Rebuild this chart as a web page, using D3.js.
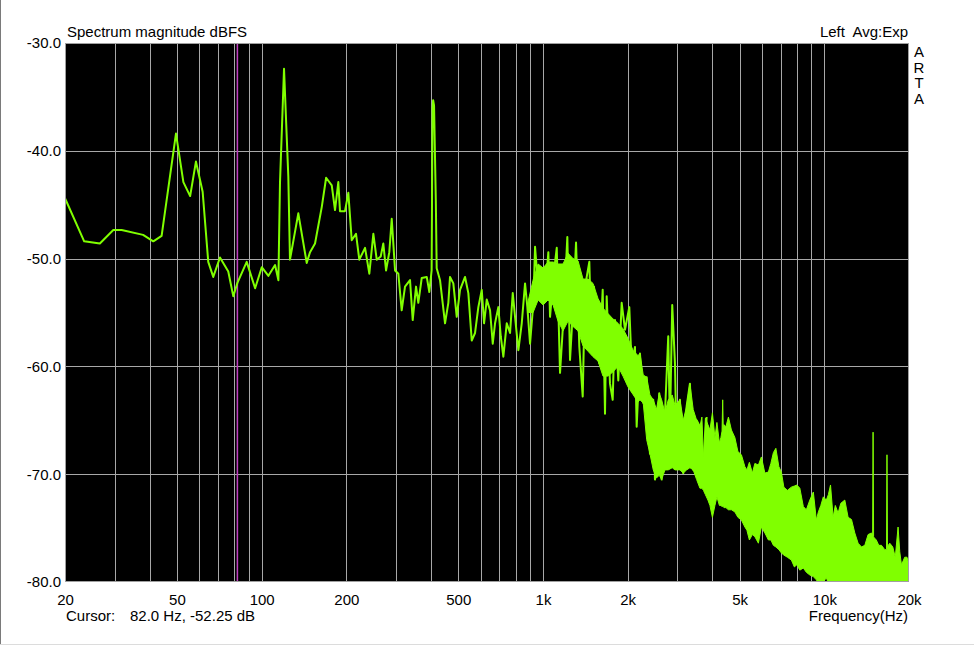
<!DOCTYPE html>
<html>
<head>
<meta charset="utf-8">
<script src="https://cdn.jsdelivr.net/npm/d3@7"></script>
<style>
  body { margin: 0; background: #ffffff; }
  svg { display: block; font-family: "Liberation Sans", Arial, sans-serif; }
</style>
</head>
<body>
<script>
// spectrum readings, drawn as a line (Hz / dBFS)
const lineHz = [20, 23.4, 26.6, 29.7, 31.8, 37.9, 41.2, 44.1, 49.6, 52.7,
  55.7, 58.4, 61.7, 64.6, 67.3, 71.1, 76.1, 79.3, 82.0, 88.5,
  94.8, 100.1, 105.7, 111.6, 114.7, 116.2, 120.1, 124.4, 126.1, 135.0,
  144.6, 148.6, 154.8, 163.6, 169.5, 177.5, 182.3, 187.3, 189.9, 197.8,
  203.3, 209.0, 216.5, 222.4, 233.1, 241.4, 249.5, 256.5, 265.0, 270.7,
  276.8, 284.3, 290.0, 298.0, 306.1, 314.6, 323.3, 336.8, 344.3, 353.8,
  360.5, 370.7, 386.2, 394.5, 402, 405, 407, 410, 416, 419,
  430.6, 448.6, 460.9, 467.3, 480.1, 493.7, 507.2, 528.4, 542.9, 558.2,
  573.5, 589.2, 605.9, 617.4, 631.2, 648.4, 662.9, 675.5, 694.0, 707.8,
  723.0, 743.4, 763.8, 780.8, 795.7, 817.5, 840.5, 863.5, 880.0, 899.6,
  924.2, 937.2, 962.8, 990.0, 1017.1, 1044.9, 1059.5, 1088.5, 1119.3, 1149.8,
  1181.3, 1220.6, 1247.8, 1282.0, 1310.7, 1346.5, 1384.3, 1410.7, 1461.2, 1490.1,
  1518.4, 1552.4, 1585.7, 1630.3, 1661.4, 1684.6, 1730.6, 1769.2, 1802.9, 1852.3,
  1904.4, 1956.6, 2026.7, 2066.6, 2123.3, 2153.0, 2211.8, 2272.4, 2336.6, 2400.3,
  2466.1, 2500.6, 2590.2, 2641.3, 2713.7, 2787.9, 2826.8, 2880.5, 2945.0, 2986.2,
  3067.7, 3151.8, 3240.7, 3329.1, 3420.3, 3516.9, 3612.8, 3711.8, 3816.6]
const lineDb = [-44.4, -48.4, -48.6, -47.35, -47.35, -47.8, -48.4, -47.9, -38.4, -42.9,
  -44.2, -41.0, -43.8, -50.3, -51.7, -49.9, -51.2, -53.5, -52.25, -50.3,
  -52.75, -50.8, -51.6, -50.6, -52.0, -43.0, -32.4, -42.4, -50.1, -45.8,
  -50.4, -49.4, -48.6, -45.2, -42.5, -43.2, -45.5, -42.9, -45.6, -45.6,
  -43.9, -48.3, -47.7, -50.1, -49.0, -51.4, -47.7, -50.1, -49.8, -48.6,
  -51.1, -49.4, -46.3, -51.1, -51.4, -54.8, -52.6, -52.0, -55.7, -52.6,
  -54.1, -51.8, -51.7, -53.1, -51.1, -36.0, -35.3, -35.8, -44.6, -50.9,
  -52.0, -56.0, -54.1, -51.7, -52.3, -55.4, -52.9, -51.7, -53.2, -57.6,
  -56.9, -54.5, -52.9, -56.0, -53.8, -54.8, -57.9, -56.0, -54.5, -57.2,
  -59.1, -56.0, -56.9, -53.2, -55.4, -58.5, -56.0, -52.3, -54.5, -57.9,
  -54.1, -48.9, -52.9, -51.1, -53.5, -49.4, -55.4, -51.7, -49.0, -60.6,
  -55.7, -48.0, -59.4, -54.1, -48.5, -58.2, -62.8, -52.6, -50.3, -58.5,
  -52.6, -58.5, -59.7, -52.9, -64.4, -53.5, -61.6, -63.1, -55.7, -61.3,
  -54.1, -56.6, -54.5, -60.0, -58.2, -65.6, -58.8, -63.4, -61.0, -68.1,
  -63.1, -70.5, -62.5, -70.5, -64.4, -57.2, -65.6, -54.3, -59.7, -67.5,
  -63.1, -69.9, -63.7, -61.6, -69.6, -65.0, -65.6, -71.2, -64.7]

// dense part: per-column top and floor of the filled spectrum band
const bandHz = [885, 922, 961, 1001, 1042, 1086, 1131, 1178, 1228, 1279,
  1332, 1388, 1446, 1506, 1569, 1634, 1703, 1774, 1848, 1925,
  2005, 2089, 2176,
  2212, 2272, 2337, 2400, 2466, 2532, 2590, 2641, 2714, 2788,
  2880, 2945, 3068, 3152, 3241, 3329, 3420, 3517, 3613, 3672,
  3718, 3779, 3857, 3921, 4002, 4085, 4152, 4238, 4290, 4330,
  4353, 4375, 4397, 4469, 4562, 4675, 4810, 4930, 5073, 5220,
  5307, 5416, 5550, 5665, 5831, 5974, 6148, 6328, 6457, 6591,
  6727, 6894, 7036, 7181, 7390, 7636, 7825, 7987, 8185, 8423,
  8633, 8882, 9141, 9368, 9525, 9719, 9920, 10167, 10336, 10522,
  10747, 10943, 11196, 11446, 11827, 12150, 12492, 12835, 13186, 13557,
  13928, 14310, 14712, 14850, 14907, 14970, 15052, 15303, 15619, 15966,
  16403, 16640, 16702, 16770, 16883, 17087, 17512, 17875, 18288, 18543,
  18803, 19318, 19670, 20000]
const bandTopDb = [-54.0, -52.0, -50.5, -50.87, -50.32, -50.32, -50.5, -50.5, -49.5, -50.0,
  -50.2, -51.9, -51.9, -52.3, -53.7, -54.6, -55.1, -55.6, -56.0, -56.5,
  -57.4, -58.5, -59.0,
  -58.8, -60.8, -61.0, -62.65, -63.1, -64.0, -62.5, -63.1, -64.3, -63.1,
  -62.65, -63.6, -63.1, -65.0, -63.7, -61.6, -64.0, -65.0, -65.6, -64.7,
  -68.4, -64.8, -65.4, -65.9, -64.3, -66.6, -65.2, -67.1, -66.6, -66.0,
  -63.1, -66.0, -65.4, -65.6, -64.7, -65.9, -66.6, -67.9, -68.2, -69.3,
  -69.6, -68.9, -69.9, -69.0, -69.15, -68.4, -69.9, -69.8, -69.0, -68.0,
  -67.6, -69.3, -69.8, -71.2, -71.5, -71.2, -71.1, -71.0, -71.3, -73.0,
  -73.3, -72.4, -71.65, -74.25, -73.5, -72.9, -72.1, -72.4, -71.9, -71.0,
  -74.0, -72.9, -73.6, -72.7, -72.4, -74.0, -74.2, -75.45, -76.4, -76.75,
  -76.6, -75.6, -75.45, -75.6, -66.1, -75.8, -75.9, -76.1, -76.6, -76.6,
  -77.0, -77.0, -68.2, -76.8, -76.6, -76.4, -76.75, -77.7, -74.9, -77.2,
  -78.4, -77.7, -77.7, -78.4]
const bandFloorDb = [-55.0, -55.0, -53.84, -54.3, -53.84, -54.3, -55.8, -56.7, -55.8, -56.3,
  -56.7, -58.1, -58.6, -59.1, -59.5, -60.9, -60.9, -60.5, -60.0, -60.9,
  -61.9, -62.6, -63.3,
  -63.1, -63.4, -66.8, -68.1, -69.6, -70.35, -70.1, -70.5, -69.6, -69.6,
  -69.4, -69.6, -69.6, -69.9, -69.6, -69.4, -69.6, -70.5, -71.3, -71.3,
  -71.5, -71.9, -72.4, -72.9, -74.0, -72.9, -72.1, -72.9, -72.9, -73.0,
  -73.0, -73.0, -73.1, -73.1, -73.3, -73.3, -73.5, -74.0, -74.25, -74.9,
  -75.2, -76.1, -75.6, -75.8, -76.4, -74.9, -75.45, -76.1, -76.1, -76.6,
  -76.75, -77.0, -77.3, -77.5, -77.7, -77.96, -78.6, -78.4, -78.9, -78.7,
  -79.1, -79.35, -79.5, -79.8, -80.1, -80.1, -80.0, -79.6, -80.1, -80.1,
  -81, -81, -81, -81, -81, -81, -81, -81, -81, -81,
  -81, -81, -81, -81, -81, -81, -81, -81, -81, -81,
  -81, -81, -81, -81, -81, -81, -81, -81, -81, -81,
  -81, -81, -81, -81]

const gridHz = [30, 40, 50, 60, 70, 80, 90, 100, 200, 300, 400, 500, 600, 700, 800, 900,
  1000, 2000, 3000, 4000, 5000, 6000, 7000, 8000, 9000, 10000]
const gridDb = [-40, -50, -60, -70]
const freqTickHz = [20, 50, 100, 200, 500, 1000, 2000, 5000, 10000, 20000]
const freqTickLabels = ["20", "50", "100", "200", "500", "1k", "2k", "5k", "10k", "20k"]
const levelTickDb = [-30, -40, -50, -60, -70, -80]
const cursorHz = 82.0
const cursorDb = -52.25
const brand = ["A", "R", "T", "A"]

var w = 974
var h = 646
var plotL = 65, plotR = 909, plotT = 43, plotB = 582

var svg = d3.select("body").append("svg")
    .attr("width", w)
    .attr("height", h)

// window frame
svg.append("rect").attr("width", w).attr("height", h).attr("fill", "#ffffff")
svg.append("line").attr("x1", 0.5).attr("x2", 0.5).attr("y1", 0).attr("y2", 644)
    .attr("stroke", "#7a7a7a")
svg.append("line").attr("x1", 0).attr("x2", w).attr("y1", 644.5).attr("y2", 644.5)
    .attr("stroke", "#dcdcdc")

var x = d3.scaleLog().domain([20, 20000]).range([plotL, plotR])
var y = d3.scaleLinear().domain([-80, -30]).range([plotB, plotT])

svg.append("rect")
    .attr("x", plotL).attr("y", plotT)
    .attr("width", plotR - plotL).attr("height", plotB - plotT)
    .attr("fill", "#000000")

svg.append("clipPath").attr("id", "plot")
    .append("rect")
    .attr("x", plotL).attr("y", plotT)
    .attr("width", plotR - plotL).attr("height", plotB - plotT)

// grid
svg.append("g").selectAll("line")
    .data(gridHz).enter().append("line")
    .attr("x1", d => Math.round(x(d)) + 0.5).attr("x2", d => Math.round(x(d)) + 0.5)
    .attr("y1", plotT).attr("y2", plotB)
    .attr("stroke", "#a8a8a8")
svg.append("g").selectAll("line")
    .data(gridDb).enter().append("line")
    .attr("x1", plotL).attr("x2", plotR)
    .attr("y1", d => Math.round(y(d)) + 0.5).attr("y2", d => Math.round(y(d)) + 0.5)
    .attr("stroke", "#a8a8a8")

// cursor
svg.append("line")
    .attr("x1", x(cursorHz)).attr("x2", x(cursorHz))
    .attr("y1", plotT).attr("y2", plotB)
    .attr("stroke", "#c040c0").attr("stroke-width", 1.5)

var trace = svg.append("g").attr("clip-path", "url(#plot)")

var band = bandHz.map((f, i) => ({ f: f, top: bandTopDb[i], floor: bandFloorDb[i] }))
trace.append("path")
    .datum(band)
    .attr("d", d3.area().x(d => x(d.f)).y0(d => y(d.floor)).y1(d => y(d.top)))
    .attr("fill", "#80ff00")
    .attr("stroke", "#80ff00")
    .attr("stroke-width", 1)

var pts = lineHz.map((f, i) => [f, lineDb[i]])
trace.append("path")
    .datum(pts)
    .attr("d", d3.line().x(d => x(d[0])).y(d => y(d[1])))
    .attr("fill", "none")
    .attr("stroke", "#80ff00")
    .attr("stroke-width", 2)
    .attr("stroke-linejoin", "round")

// plot frame
svg.append("rect")
    .attr("x", plotL + 0.5).attr("y", plotT + 0.5)
    .attr("width", plotR - plotL - 1).attr("height", plotB - plotT - 1)
    .attr("fill", "none").attr("stroke", "#a0a0a0")

// axes (labels only)
var xAxis = d3.axisBottom(x)
    .tickValues(freqTickHz)
    .tickFormat((d, i) => freqTickLabels[i])
    .tickSize(0).tickPadding(12)
var gx = svg.append("g").attr("transform", "translate(0," + plotB + ")").call(xAxis)
gx.select(".domain").remove()

var yAxis = d3.axisLeft(y)
    .tickValues(levelTickDb)
    .tickFormat(d => d.toFixed(1))
    .tickSize(0).tickPadding(4)
var gy = svg.append("g").attr("transform", "translate(" + plotL + ",0)").call(yAxis)
gy.select(".domain").remove()

svg.selectAll(".tick text")
    .attr("font-family", "Liberation Sans, Arial, sans-serif")
    .attr("font-size", 15)
    .attr("fill", "#000000")

// texts
function label(tx, ty, str, anchor) {
    return svg.append("text")
        .attr("x", tx).attr("y", ty)
        .attr("text-anchor", anchor || "start")
        .attr("font-size", 15)
        .attr("fill", "#000000")
        .style("white-space", "pre")
        .text(str)
}
label(67, 37, "Spectrum magnitude dBFS")
label(908, 37, "Left  Avg:Exp", "end")
label(66, 621, "Cursor:")
label(130, 621, cursorHz.toFixed(1) + " Hz, " + cursorDb.toFixed(2) + " dB")
label(908, 621, "Frequency(Hz)", "end")

svg.append("g").selectAll("text")
    .data(brand).enter().append("text")
    .attr("x", 919).attr("y", (d, i) => 57 + i * 15.5)
    .attr("text-anchor", "middle")
    .attr("font-size", 15)
    .text(d => d)
</script>
</body>
</html>
